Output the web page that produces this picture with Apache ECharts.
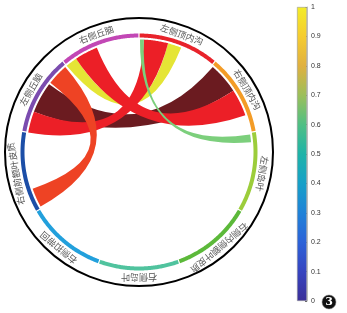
<!DOCTYPE html>
<html>
<head>
<meta charset="utf-8">
<script src="https://cdn.jsdelivr.net/npm/echarts@6/dist/echarts.min.js"></script>
<style>
  html, body { margin: 0; padding: 0; background: #fff; }
  #chart { width: 347px; height: 313px; }
</style>
</head>
<body>
<div id="chart"></div>
<script>
// nodes, clockwise from the top
const nodeNames = ['左侧顶内沟', '右侧顶内沟', '左侧岛叶', '右侧内侧额叶皮质', '右侧岛叶', '右侧扣带回', '右侧前额叶皮质', '左侧丘脑', '右侧丘脑'];
const nodeWeights = [1, 1, 1, 1, 1, 1, 1, 1, 1];
const nodeColors = ['#e8232b', '#f39c27', '#9ccd3b', '#5cb93a', '#50c39e', '#22a0dc', '#1c4ea7', '#7b4caf', '#c247b5'];

// links, drawn in this order (later ones on top)
const linkSources = ['右侧丘脑', '左侧丘脑', '右侧丘脑', '左侧丘脑', '左侧丘脑', '左侧顶内沟'];
const linkTargets = ['左侧顶内沟', '右侧顶内沟', '右侧顶内沟', '左侧顶内沟', '右侧前额叶皮质', '左侧岛叶'];
// position of each ribbon end inside its node, degrees from the node start
const linkSourceSpan = [[0, 6], [11, 27], [6, 18], [0, 11], [28, 39], [0.5, 2.5]];
const linkTargetSpan = [[15, 22], [1, 17], [17, 31], [2.5, 15], [1, 11], [1, 5]];
const linkColors = ['#e5e535', '#6b1b20', '#ec1f27', '#ec1f27', '#ee4324', '#7ccf7c'];

// colorbar
const colorbarStops = [0, 0.1, 0.2, 0.3, 0.4, 0.5, 0.6, 0.7, 0.8, 0.9, 1];
const colorbarColors = ['#3b2f98', '#3644c0', '#2c62d8', '#1f82d8', '#16a0c8', '#1eb3a8', '#4fbf84', '#9cbf5a', '#e0b040', '#f5cc30', '#f3ec28'];

const total = nodeWeights.reduce((a, b) => a + b, 0);
const nodeStart = [];
let acc = 0;
nodeWeights.forEach(w => { nodeStart.push(acc / total * 360); acc += w; });
const nodeData = nodeNames.map((n, i) => [nodeStart[i], nodeStart[i] + nodeWeights[i] / total * 360, i]);

const linkData = linkSources.map((s, i) => {
  const si = nodeNames.indexOf(s), ti = nodeNames.indexOf(linkTargets[i]);
  return [
    nodeStart[si] + linkSourceSpan[i][0], nodeStart[si] + linkSourceSpan[i][1],
    nodeStart[ti] + linkTargetSpan[i][0], nodeStart[ti] + linkTargetSpan[i][1], i
  ];
});

const RING_IN = 114.5, RING_OUT = 118.5, RIBBON_R = 112.5, LABEL_R = 125;

function arcPoints(api, r, a0, a1) {
  const n = Math.max(2, Math.ceil(Math.abs(a1 - a0) * 2));
  const pts = [];
  for (let k = 0; k <= n; k++) pts.push(api.coord([r, a0 + (a1 - a0) * k / n]));
  return pts;
}

function renderNode(params, api) {
  const a0 = api.value(0) + 0.3, a1 = api.value(1) - 0.3, i = api.value(2);
  const pts = arcPoints(api, RING_OUT, a0, a1).concat(arcPoints(api, RING_IN, a1, a0));
  const mid = (a0 + a1) / 2;
  const lp = api.coord([LABEL_R, mid]);
  return {
    type: 'group',
    children: [
      { type: 'polygon', shape: { points: pts }, style: { fill: nodeColors[i] } },
      {
        type: 'text', x: lp[0], y: lp[1], rotation: -mid * Math.PI / 180,
        style: {
          text: nodeNames[i], fill: '#555', fontSize: 9,
          fontFamily: 'Noto Sans CJK SC', align: 'center', verticalAlign: 'middle'
        }
      }
    ]
  };
}

function renderLink(params, api) {
  const s0 = api.value(0), s1 = api.value(1), t0 = api.value(2), t1 = api.value(3), i = api.value(4);
  const c = api.coord([0, 0]);
  const sp = arcPoints(api, RIBBON_R, s0, s1);
  const tp = arcPoints(api, RIBBON_R, t0, t1);
  let d = 'M' + sp[0][0] + ' ' + sp[0][1];
  sp.slice(1).forEach(p => { d += 'L' + p[0] + ' ' + p[1]; });
  d += 'Q' + c[0] + ' ' + c[1] + ' ' + tp[0][0] + ' ' + tp[0][1];
  tp.slice(1).forEach(p => { d += 'L' + p[0] + ' ' + p[1]; });
  d += 'Q' + c[0] + ' ' + c[1] + ' ' + sp[0][0] + ' ' + sp[0][1] + 'Z';
  return { type: 'path', shape: { pathData: d }, style: { fill: linkColors[i] } };
}

const chart = echarts.init(document.getElementById('chart'));
chart.setOption({
  animation: false,
  polar: { center: [139, 152], radius: 134 },
  angleAxis: {
    type: 'value', min: 0, max: 360, startAngle: 90, clockwise: true,
    axisLine: { show: true, lineStyle: { color: '#000', width: 2 } },
    axisTick: { show: false }, axisLabel: { show: false }, splitLine: { show: false }
  },
  radiusAxis: { type: 'value', min: 0, max: 134, show: false },
  grid: { left: 297, top: 7, width: 10, height: 294 },
  xAxis: { type: 'category', data: ['c'], show: false },
  yAxis: {
    type: 'value', min: 0, max: 1, interval: 0.1, position: 'right',
    axisLine: { show: true, lineStyle: { color: '#999', width: 0.6 } },
    axisTick: { show: true, inside: true, length: 2, lineStyle: { color: '#666' } },
    axisLabel: { fontSize: 7, color: '#333', margin: 4, fontFamily: 'Liberation Sans' },
    splitLine: { show: false }
  },
  graphic: [
    { type: 'circle', shape: { cx: 329, cy: 302, r: 7 }, style: { fill: '#111', stroke: '#888', lineWidth: 0.5 } },
    { type: 'text', x: 329, y: 302, style: { text: '3', fill: '#fff', font: 'bold 11px "DejaVu Serif"', align: 'center', verticalAlign: 'middle' } }
  ],
  series: [
    {
      type: 'bar', xAxisIndex: 0, yAxisIndex: 0, data: [1], barWidth: '100%', silent: true,
      itemStyle: {
        borderColor: '#999', borderWidth: 0.6,
        color: {
          type: 'linear', x: 0, y: 1, x2: 0, y2: 0,
          colorStops: colorbarStops.map((o, k) => ({ offset: o, color: colorbarColors[k] }))
        }
      }
    },
    { type: 'custom', coordinateSystem: 'polar', silent: true, renderItem: renderLink, data: linkData },
    { type: 'custom', coordinateSystem: 'polar', silent: true, renderItem: renderNode, data: nodeData }
  ]
});
</script>
</body>
</html>
